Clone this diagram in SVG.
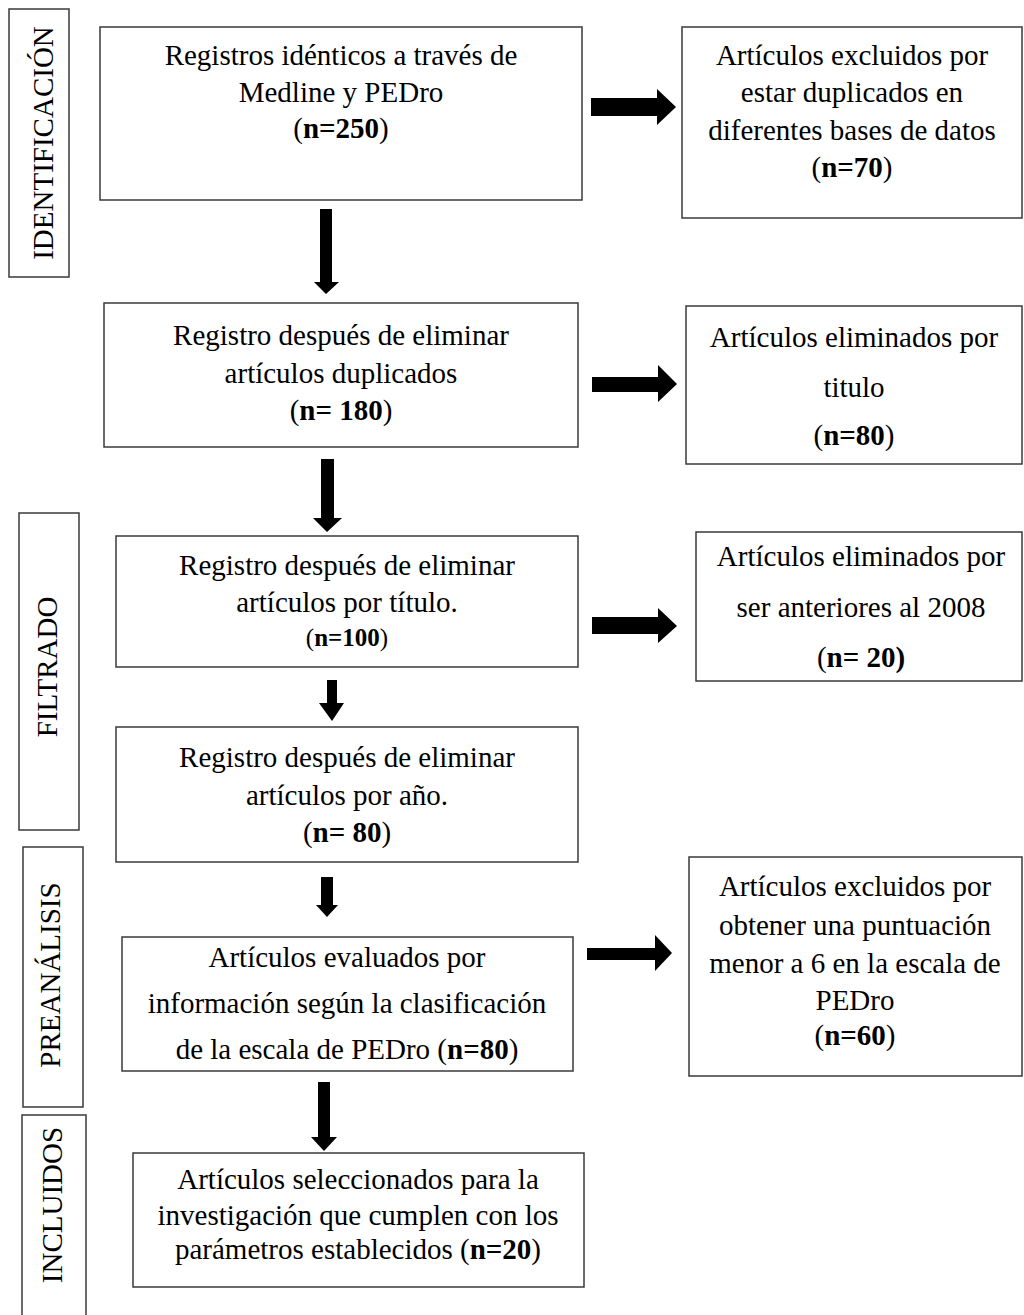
<svg xmlns="http://www.w3.org/2000/svg" width="1024" height="1315" viewBox="0 0 1024 1315">
<style>
  .box{fill:#fff;stroke:#3a3a3a;stroke-width:1.5}
  .t{font-family:"Liberation Serif","Times New Roman",serif;font-size:29px;fill:#000;text-anchor:middle}
  .side{font-family:"Liberation Serif","Times New Roman",serif;font-size:29px;fill:#000;text-anchor:middle}
  .b{font-weight:bold}
  .arr{fill:#000}
</style>
<rect width="1024" height="1315" fill="#fff"/>

<g id="stage-identificacion">
  <rect class="box" x="9" y="9" width="60" height="268"/>
  <text class="side" transform="translate(53,143) rotate(-90)">IDENTIFICACIÓN</text>
</g>
<g id="stage-filtrado">
  <rect class="box" x="19" y="513" width="60" height="317"/>
  <text class="side" transform="translate(57,667) rotate(-90)">FILTRADO</text>
</g>
<g id="stage-preanalisis">
  <rect class="box" x="23" y="847" width="60" height="260"/>
  <text class="side" transform="translate(60,975) rotate(-90)">PREANÁLISIS</text>
</g>
<g id="stage-incluidos">
  <rect class="box" x="22" y="1115" width="64" height="210"/>
  <text class="side" transform="translate(62,1205) rotate(-90)">INCLUIDOS</text>
</g>

<g id="n1">
  <rect class="box" x="100" y="27" width="482" height="173"/>
  <text class="t" x="341" y="65">Registros idénticos a través de</text>
  <text class="t" x="341" y="102">Medline y PEDro</text>
  <text class="t" x="341" y="138">(<tspan class="b">n=250</tspan>)</text>
</g>
<g id="r1">
  <rect class="box" x="682" y="27" width="340" height="191"/>
  <text class="t" x="852" y="65">Artículos excluidos por</text>
  <text class="t" x="852" y="102">estar duplicados en</text>
  <text class="t" x="852" y="140">diferentes bases de datos</text>
  <text class="t" x="852" y="177">(<tspan class="b">n=70</tspan>)</text>
</g>
<g id="n2">
  <rect class="box" x="104" y="303" width="474" height="144"/>
  <text class="t" x="341" y="345">Registro después de eliminar</text>
  <text class="t" x="341" y="383">artículos duplicados</text>
  <text class="t" x="341" y="420">(<tspan class="b">n= 180</tspan>)</text>
</g>
<g id="r2">
  <rect class="box" x="686" y="306" width="336" height="158"/>
  <text class="t" x="854" y="347">Artículos eliminados por</text>
  <text class="t" x="854" y="397">titulo</text>
  <text class="t" x="854" y="445">(<tspan class="b">n=80</tspan>)</text>
</g>
<g id="n3">
  <rect class="box" x="116" y="536" width="462" height="131"/>
  <text class="t" x="347" y="575">Registro después de eliminar</text>
  <text class="t" x="347" y="612">artículos por título.</text>
  <text class="t" x="347" y="646" style="font-size:25px">(<tspan class="b">n=100</tspan>)</text>
</g>
<g id="r3">
  <rect class="box" x="696" y="532" width="326" height="149"/>
  <text class="t" x="861" y="566">Artículos eliminados por</text>
  <text class="t" x="861" y="617">ser anteriores al 2008</text>
  <text class="t" x="861" y="667">(<tspan class="b">n= 20)</tspan></text>
</g>
<g id="n4">
  <rect class="box" x="116" y="727" width="462" height="135"/>
  <text class="t" x="347" y="767">Registro después de eliminar</text>
  <text class="t" x="347" y="805">artículos por año.</text>
  <text class="t" x="347" y="842">(<tspan class="b">n= 80</tspan>)</text>
</g>
<g id="n5">
  <rect class="box" x="122" y="937" width="451" height="134"/>
  <text class="t" x="347" y="967">Artículos evaluados por</text>
  <text class="t" x="347" y="1013">información según la clasificación</text>
  <text class="t" x="347" y="1059">de la escala de PEDro (<tspan class="b">n=80</tspan>)</text>
</g>
<g id="r5">
  <rect class="box" x="689" y="857" width="333" height="219"/>
  <text class="t" x="855" y="896">Artículos excluidos por</text>
  <text class="t" x="855" y="935">obtener una puntuación</text>
  <text class="t" x="855" y="973">menor a 6 en la escala de</text>
  <text class="t" x="855" y="1010">PEDro</text>
  <text class="t" x="855" y="1045">(<tspan class="b">n=60</tspan>)</text>
</g>
<g id="n6">
  <rect class="box" x="133" y="1153" width="451" height="134"/>
  <text class="t" x="358" y="1189">Artículos seleccionados para la</text>
  <text class="t" x="358" y="1225">investigación que cumplen con los</text>
  <text class="t" x="358" y="1259">parámetros establecidos (<tspan class="b">n=20</tspan>)</text>
</g>

<g id="connectors">
  <polygon class="arr" points="591,98 657,98 657,89 676,107 657,125 657,116 591,116"/>
  <polygon class="arr" points="592,377 658,377 658,365 677,384 658,402 658,392 592,392"/>
  <polygon class="arr" points="592,617 658,617 658,608 677,626 658,643 658,634 592,634"/>
  <polygon class="arr" points="587,948 655,948 655,935 672,953 655,971 655,960 587,960"/>
  <polygon class="arr" points="320,209 332,209 332,282 339,282 326,294 314,282 320,282"/>
  <polygon class="arr" points="321,459 334,459 334,518 342,518 327,532 313,518 321,518"/>
  <polygon class="arr" points="327,680 337,680 337,703 344,703 332,721 319,703 327,703"/>
  <polygon class="arr" points="321,877 333,877 333,905 338,905 327,917 316,905 321,905"/>
  <polygon class="arr" points="318,1082 330,1082 330,1137 337,1137 324,1151 311,1137 318,1137"/>
</g>
</svg>
